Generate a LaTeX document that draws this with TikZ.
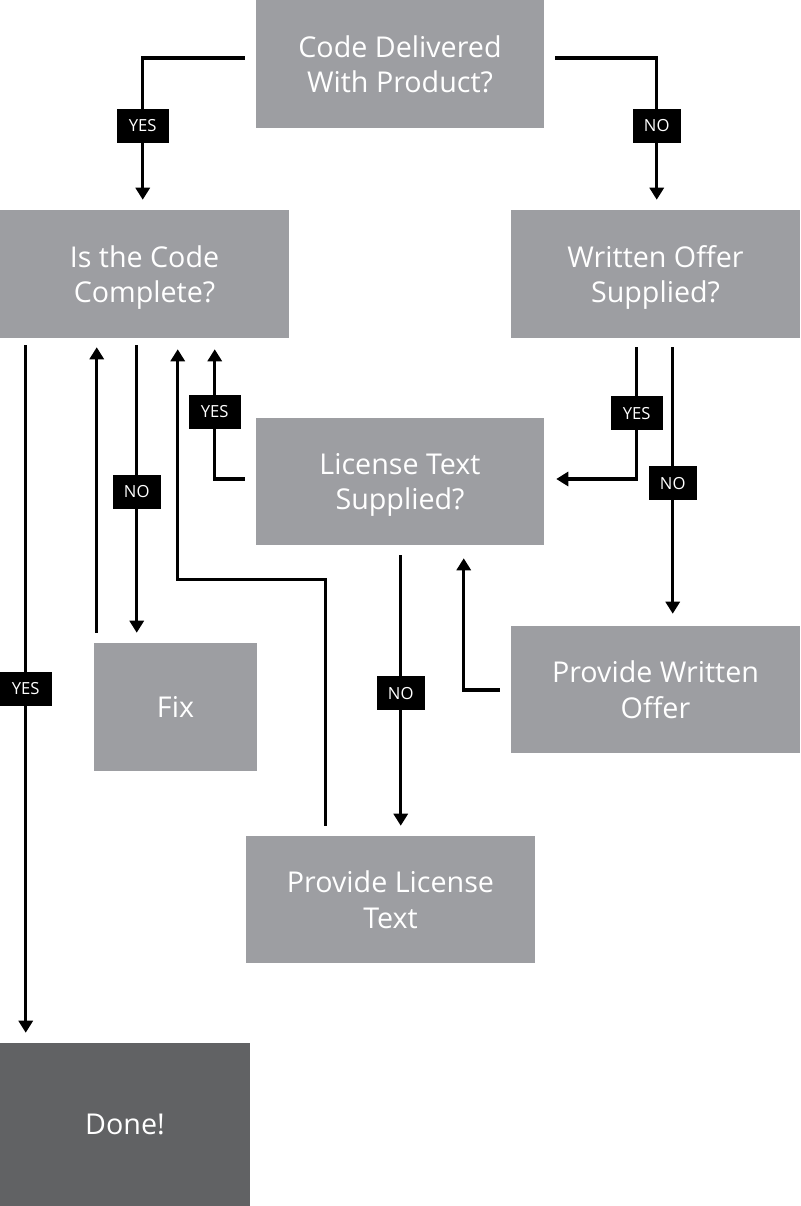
\documentclass[tikz,border=0pt]{standalone}
\usepackage{fontspec}
\setmainfont{Open Sans}
\usetikzlibrary{calc,arrows.meta}
\definecolor{boxgray}{HTML}{9D9EA2}
\definecolor{donegray}{HTML}{616264}
\tikzset{
  box/.style={fill=boxgray, draw=none, text=white, align=center, inner sep=0pt,
    font=\fontsize{21.5}{26.5}\selectfont, text depth=0pt},
  conn/.style={line width=2.4pt, -{Triangle[length=9pt,width=10.5pt]}},
  lab/.style={fill=black, text=white, inner sep=0pt, minimum height=25.5pt,
    font=\fontsize{12.5}{14}\selectfont},
}
\begin{document}
\begin{tikzpicture}[x=0.75pt,y=-0.75pt]
\useasboundingbox (0,0) rectangle (800,1206);
% boxes
\node[box, minimum width=288*0.75pt, minimum height=128*0.75pt] (top) at (400,64) {Code Delivered\\With Product?};
\node[box, minimum width=289*0.75pt, minimum height=128*0.75pt] (code) at (144.5,274) {Is the Code\\Complete?};
\node[box, minimum width=289*0.75pt, minimum height=128*0.75pt] (offer) at (655.5,274) {Written Offer\\Supplied?};
\node[box, minimum width=288*0.75pt, minimum height=127*0.75pt] (lic) at (400,481.5) {License Text\\Supplied?};
\node[box, minimum width=163*0.75pt, minimum height=128*0.75pt] (fix) at (175.5,707) {Fix};
\node[box, minimum width=289*0.75pt, minimum height=127*0.75pt] (pwo) at (655.5,689.5) {Provide Written\\Offer};
\node[box, minimum width=289*0.75pt, minimum height=127*0.75pt] (plt) at (390.5,899.5) {Provide License\\Text};
\node[box, fill=donegray, minimum width=250*0.75pt, minimum height=163*0.75pt] (done) at (125,1124.5) {Done!};

% top -> code (YES)
\draw[conn] ($(top.west)+(-11,-6)$) -| ($(code.north west)+(143,-10)$)
  node[lab, minimum width=39pt, pos=0.74] {YES};
% top -> offer (NO)
\draw[conn] ($(top.east)+(11,-6)$) -| ($(offer.north west)+(146,-10)$)
  node[lab, minimum width=36pt, pos=0.74] {NO};
% code -> done (YES)
\draw[conn] ($(code.south west)+(26,7)$) -- ($(done.north west)+(26,-10)$)
  node[lab, minimum width=39pt, pos=0.5] {YES};
% fix -> code
\draw[conn] ($(fix.north west)+(3,-10)$) -- ($(code.south west)+(97,9)$);
% code -> fix (NO)
\draw[conn] ($(code.south west)+(137,7)$) -- ($(fix.north west)+(43,-10)$)
  node[lab, minimum width=36pt, pos=0.51] {NO};
% plt -> code
\coordinate (pltbend) at ($(plt.north west)+(80,-256)$);
\draw[conn] ($(plt.north west)+(80,-10)$) -- (pltbend) -| ($(code.south west)+(178,11)$);
% lic -> code (YES)
\draw[conn] ($(lic.west)+(-11,-2.5)$) -| ($(code.south west)+(215,11)$)
  node[lab, minimum width=39pt, pos=0.76] {YES};
% offer -> lic (YES)
\draw[conn] ($(offer.south west)+(126,9)$) |- ($(lic.east)+(12,-2.5)$)
  node[lab, minimum width=39pt, pos=0.25] {YES};
% offer -> pwo (NO)
\draw[conn] ($(offer.south west)+(162,9)$) -- ($(pwo.north west)+(162,-12)$)
  node[lab, minimum width=36pt, pos=0.51] {NO};
% pwo -> lic
\draw[conn] ($(pwo.west)+(-11,0.5)$) -| ($(lic.south west)+(208,13)$);
% lic -> plt (NO)
\draw[conn] ($(lic.south west)+(145,10)$) -- ($(plt.north west)+(155,-10)$)
  node[lab, minimum width=36pt, pos=0.51] {NO};
\end{tikzpicture}
\end{document}
